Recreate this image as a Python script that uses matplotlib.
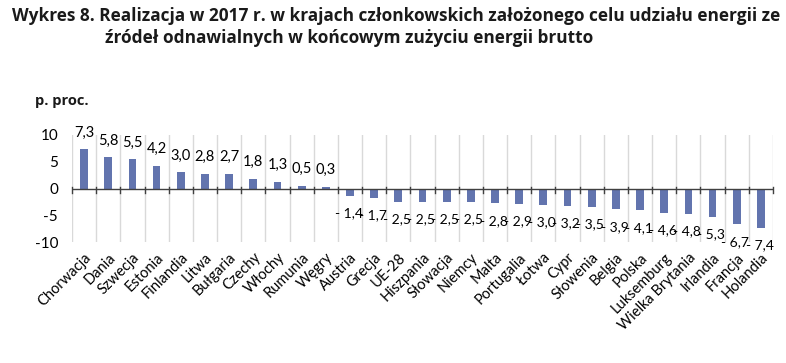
import matplotlib
matplotlib.use("Agg")
import matplotlib.pyplot as plt
import numpy as np

categories = ["Chorwacja", "Dania", "Szwecja", "Estonia", "Finlandia", "Litwa", "Bułgaria",
              "Czechy", "Włochy", "Rumunia", "Węgry", "Austria", "Grecja", "UE-28", "Hiszpania",
              "Słowacja", "Niemcy", "Malta", "Portugalia", "Łotwa", "Cypr", "Słowenia", "Belgia",
              "Polska", "Luksemburg", "Wielka Brytania", "Irlandia", "Francja", "Holandia"]
values = [7.3, 5.8, 5.5, 4.2, 3.0, 2.8, 2.7, 1.8, 1.3, 0.5, 0.3, -1.4, -1.7, -2.5, -2.5,
          -2.5, -2.5, -2.8, -2.9, -3.0, -3.2, -3.5, -3.9, -4.1, -4.6, -4.8, -5.3, -6.7, -7.4]
yticks = [10, 5, 0, -5, -10]

W, H = 786, 363
fig = plt.figure(figsize=(W / 100, H / 100), dpi=100)
plt.rcParams['font.family'] = ['Lato', 'DejaVu Sans']

left, right, top, bottom = 72, 773, 135, 242
ax = fig.add_axes([left / W, 1 - bottom / H, (right - left) / W, (bottom - top) / H])

n = len(categories)
x = np.arange(n)
color = "#6274AE"
ax.bar(x, values, width=0.32, color=color, zorder=3)
ax.set_xlim(-0.5, n - 0.5)
ax.set_ylim(-10, 10)

for s in ax.spines.values():
    s.set_visible(False)

for b in np.arange(-0.5, n, 1.0):
    ax.axvline(b, color="#D9D9D9", lw=1.0, zorder=1)
ax.axhline(0, color="#404040", lw=1.0, zorder=4)
for b in np.arange(-0.5, n, 1.0):
    ax.plot([b, b], [-0.9, 0.3], color="#404040", lw=1.0, zorder=4, clip_on=False)

ax.set_yticks(yticks)
ax.set_yticklabels([str(v) for v in yticks], fontsize=11)
ax.tick_params(axis='y', length=0, pad=10)
ax.set_xticks(x)
ax.set_xticklabels(categories, rotation=45, ha='right', rotation_mode='anchor', fontsize=10.5)
ax.tick_params(axis='x', length=0, pad=6)

for xi, v in zip(x, values):
    s = f"{abs(v):.1f}".replace(".", ",")
    if v >= 0:
        ax.annotate(s, (xi, v), xytext=(0, 12), textcoords='offset points',
                    ha='center', va='center', fontsize=10.5, zorder=5)
    else:
        ax.annotate("- " + s, (xi, v), xytext=(-1, -12.5), textcoords='offset points',
                    ha='center', va='center', fontsize=10, zorder=5)

tfont = ['Open Sans', 'DejaVu Sans']
t1 = fig.text(12 / W, 1 - 16 / H,
              "Wykres 8. Realizacja w 2017 r. w krajach członkowskich założonego celu udziału energii ze",
              fontsize=12, fontweight='bold', ha='left', va='center', color="#1a1a1a", family=tfont)
t2 = fig.text(105 / W, 1 - 38 / H,
              "źródeł odnawialnych w końcowym zużyciu energii brutto",
              fontsize=12, fontweight='bold', ha='left', va='center', color="#1a1a1a", family=tfont)
fig.canvas.draw()
r = fig.canvas.get_renderer()
w1 = t1.get_window_extent(r).width
fs = 12 * 768 / w1
t1.set_fontsize(fs)
t2.set_fontsize(fs)
fig.text(35 / W, 1 - 101 / H, "p. proc.", fontsize=10.5, fontweight='bold',
         ha='left', va='center', color="#1a1a1a", family=tfont)

fig.savefig("out.png", dpi=100)
